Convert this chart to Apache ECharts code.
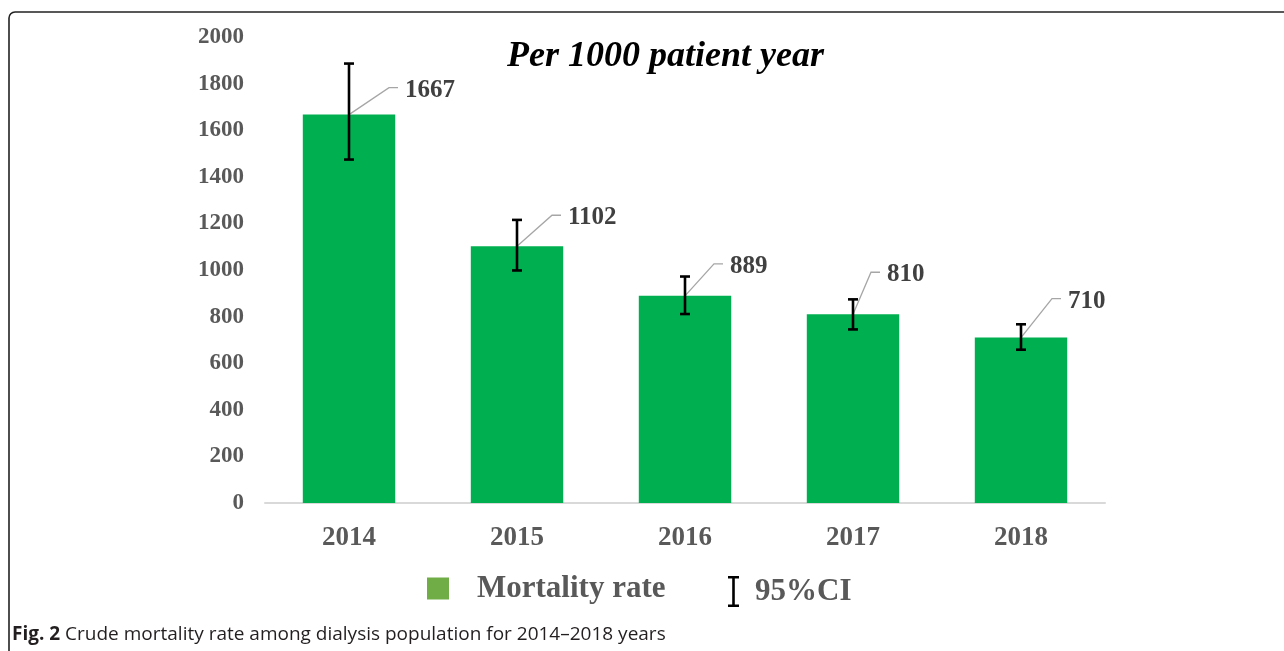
<!DOCTYPE html>
<html>
<head>
<meta charset="utf-8">
<script src="https://cdn.jsdelivr.net/npm/echarts@6/dist/echarts.min.js"></script>
<style>
  html, body { margin: 0; padding: 0; background: #fff; }
  #main { width: 1284px; height: 651px; }
</style>
</head>
<body>
<div id="main"></div>
<script>
  // data
  var years = ['2014', '2015', '2016', '2017', '2018'];
  var mortalityRate = [1667, 1102, 889, 810, 710];
  var ciLower = [1474, 998, 811, 745, 658];
  var ciUpper = [1886, 1215, 972, 874, 767];

  // label leader elbows, px from bar top (hand placed in the original)
  var leaderOffsets = [[40, -27], [35, -31], [29, -32], [18, -42], [31, -39]];

  var serif = '"Liberation Serif", "Times New Roman", serif';

  // error bars + leader line + value label
  function renderCI(params, api) {
    var i = api.value(0);
    var hi = api.coord([i, api.value(2)]);
    var lo = api.coord([i, api.value(1)]);
    var top = api.coord([i, api.value(3)]);
    var off = leaderOffsets[params.dataIndex];
    var ex = top[0] + off[0], ey = top[1] + off[1];
    var cap = 5;
    var st = { stroke: '#000', lineWidth: 2.6 };
    return {
      type: 'group',
      children: [
        {
          type: 'polyline',
          shape: { points: [top, [ex, ey], [ex + 9, ey]] },
          style: { stroke: '#a6a6a6', lineWidth: 1.3, fill: null }
        },
        { type: 'line', shape: { x1: hi[0], y1: hi[1], x2: lo[0], y2: lo[1] }, style: st },
        { type: 'line', shape: { x1: hi[0] - cap, y1: hi[1], x2: hi[0] + cap, y2: hi[1] }, style: st },
        { type: 'line', shape: { x1: lo[0] - cap, y1: lo[1], x2: lo[0] + cap, y2: lo[1] }, style: st },
        {
          type: 'text',
          x: ex + 16,
          y: ey + 2.5,
          style: {
            text: String(api.value(3)),
            font: 'bold 25px ' + serif,
            fill: '#404040',
            verticalAlign: 'middle'
          }
        }
      ]
    };
  }

  var ciData = years.map(function (y, i) {
    return [i, ciLower[i], ciUpper[i], mortalityRate[i]];
  });

  var chart = echarts.init(document.getElementById('main'));
  chart.setOption({
    backgroundColor: '#fff',
    animation: false,
    title: {
      text: 'Per 1000 patient year',
      left: 507,
      top: 39,
      padding: 0,
      textStyle: { fontFamily: serif, fontSize: 36, fontWeight: 'bold', fontStyle: 'italic', color: '#000' }
    },
    legend: [
      {
        left: 427,
        top: 573,
        padding: 0,
        itemWidth: 68,
        itemHeight: 22,
        data: [{ name: 'Mortality rate', icon: 'path://M0,0H10V10H0Z', itemStyle: { color: '#70AD47' } }],
        textStyle: { fontFamily: serif, fontSize: 31, fontWeight: 'bold', color: '#595959' }
      },
      {
        left: 728,
        top: 576,
        padding: 0,
        itemWidth: 33,
        itemHeight: 31,
        data: [{ name: '95%CI', icon: 'path://M0,0H11V2.6H6.8V28.4H11V31H0V28.4H4.2V2.6H0Z', itemStyle: { color: '#000' } }],
        textStyle: { fontFamily: serif, fontSize: 31, fontWeight: 'bold', color: '#595959' }
      }
    ],
    grid: { left: 265, right: 179, top: 37, bottom: 148 },
    xAxis: {
      type: 'category',
      data: years,
      axisTick: { show: false },
      axisLine: { lineStyle: { color: '#d9d9d9', width: 2 } },
      axisLabel: { margin: 22, fontFamily: serif, fontSize: 27, fontWeight: 'bold', color: '#595959' }
    },
    yAxis: {
      type: 'value',
      min: 0,
      max: 2000,
      interval: 200,
      splitLine: { show: false },
      axisLine: { show: false },
      axisTick: { show: false },
      axisLabel: {
        margin: 21,
        fontFamily: serif,
        fontSize: 23,
        fontWeight: 'bold',
        color: '#595959',
        formatter: function (v) { return String(v); }
      }
    },
    series: [
      {
        name: 'Mortality rate',
        type: 'bar',
        barWidth: '55%',
        data: mortalityRate,
        itemStyle: { color: '#00B050' }
      },
      {
        name: '95%CI',
        type: 'custom',
        renderItem: renderCI,
        encode: { x: 0, y: [1, 2] },
        data: ciData,
        z: 5
      }
    ],
    graphic: [
      {
        type: 'rect',
        shape: { x: 9, y: 12, width: 1400, height: 800, r: 6 },
        style: { fill: null, stroke: '#222', lineWidth: 1.6 },
        silent: true
      },
      {
        type: 'text',
        x: 12,
        y: 635,
        style: {
          text: '{b|Fig. 2} Crude mortality rate among dialysis population for 2014\u20132018 years',
          font: '19px "Open Sans", sans-serif',
          fill: '#231f20',
          verticalAlign: 'middle',
          rich: {
            b: { font: 'bold 19px "Open Sans", sans-serif', fill: '#231f20' }
          }
        }
      }
    ]
  });
</script>
</body>
</html>
